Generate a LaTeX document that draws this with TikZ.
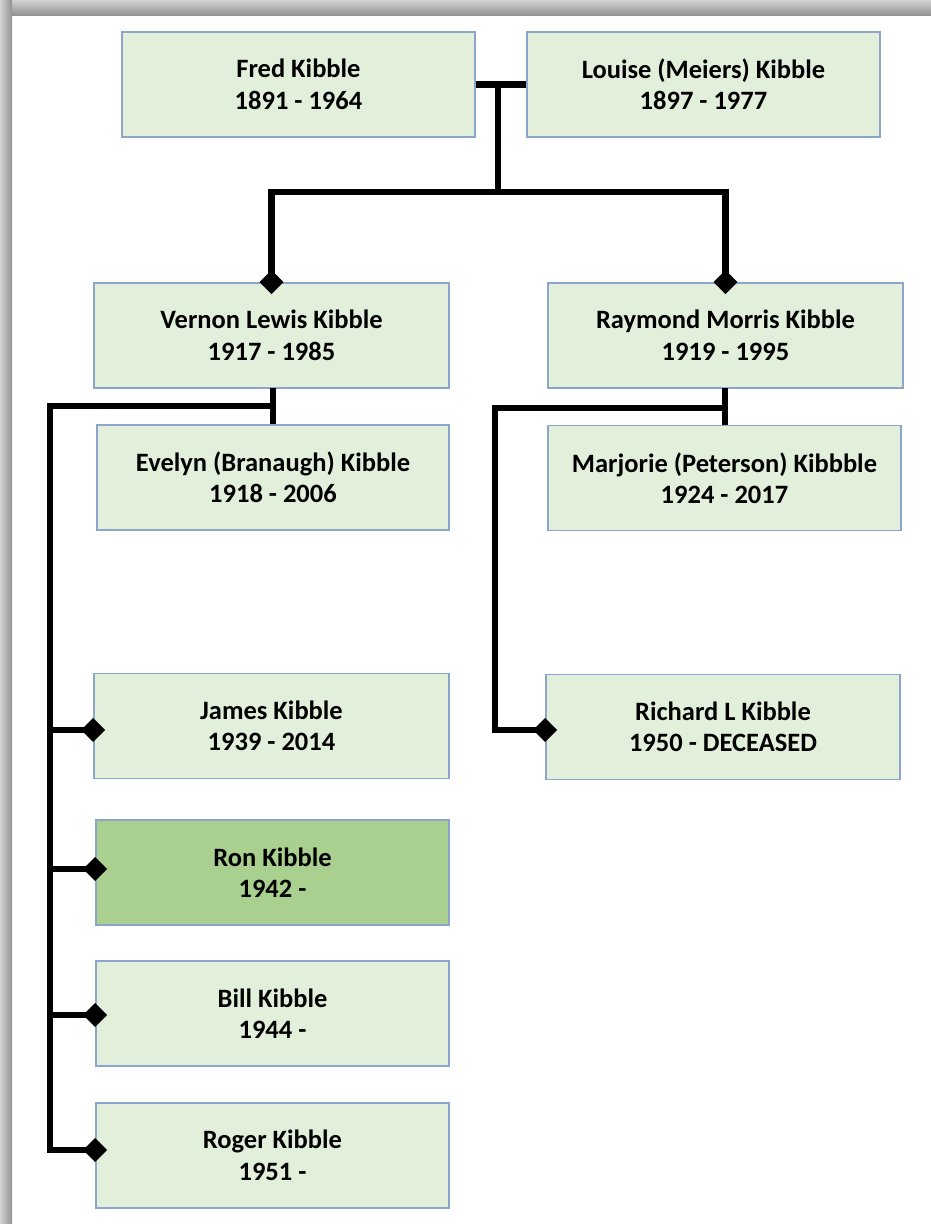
\documentclass[tikz,border=0pt]{standalone}
\usepackage{fontspec}
\setmainfont{Carlito}
\usetikzlibrary{arrows.meta,calc}
\definecolor{boxfill}{RGB}{226,239,218}
\definecolor{ronfill}{RGB}{169,208,142}
\definecolor{boxline}{RGB}{140,165,205}
\begin{document}
\begin{tikzpicture}[x=1pt,y=-1pt,
  person/.style={draw=boxline, line width=1.8pt, fill=boxfill, minimum width=353pt, minimum height=105pt,
     inner sep=0pt, align=center, font=\fontsize{26.5}{31.5}\selectfont\bfseries, text=black},
  conn/.style={line width=6.8pt, line join=miter, line cap=rect},
  child/.style={line width=6.8pt, line join=miter, -{Diamond[length=24pt,width=24pt]}, shorten >=-12pt}
]
\useasboundingbox (0,0) rectangle (931,1224);
\fill[white] (0,0) rectangle (931,1224);
\shade[top color=gray!35, bottom color=gray!85] (0,0) rectangle (931,15);
\shade[left color=gray!35, right color=gray!85] (0,0) rectangle (12,1224);

\node[person] (fred) at (298.5,84.5) {Fred Kibble\\1891 - 1964};
\node[person] (louise) at (703.5,84.5) {Louise (Meiers) Kibble\\1897 - 1977};
\node[person, minimum width=355pt] (vernon) at (271.5,335.5) {Vernon Lewis Kibble\\1917 - 1985};
\node[person, minimum width=355pt] (raymond) at (725.5,335.5) {Raymond Morris Kibble\\1919 - 1995};
\node[person, minimum width=352pt] (evelyn) at (273,477.5) {Evelyn (Branaugh) Kibble\\1918 - 2006};
\node[person] (marjorie) at (724.5,478) {Marjorie (Peterson) Kibbble\\1924 - 2017};
\node[person, minimum width=355pt] (james) at (271.5,726) {James Kibble\\1939 - 2014};
\node[person, fill=ronfill] (ron) at (272.5,872.5) {Ron Kibble\\1942 -};
\node[person] (bill) at (272.5,1013.5) {Bill Kibble\\1944 -};
\node[person] (roger) at (272.5,1155.5) {Roger Kibble\\1951 -};
\node[person, minimum width=354pt] (richard) at (723,727) {Richard L Kibble\\1950 - DECEASED};

% parents
\draw[conn, line cap=butt] (fred.east) -- (louise.west);
\coordinate (pm) at (498,84.5);
\coordinate (pj) at (498,192);
\draw[conn, line cap=butt] (pm) -- (pj);
\draw[child] (pj) -| (vernon.north);
\draw[child] (pj) -| (raymond.north);

% Vernon family
\coordinate (vb) at (273,388);
\draw[conn, line cap=butt] (vb) -- (vb |- evelyn.north);
\coordinate (vj) at (273,406);
\coordinate (ls) at (50,406);
\coordinate (le) at (50,1150);
\draw[conn] (vj) -- (ls) -- (le);
\coordinate (sj) at (50,730);
\coordinate (sr) at (50,869);
\coordinate (sb) at (50,1015);
\draw[child] (sj) -- (sj -| james.west);
\draw[child] (sr) -- (sr -| ron.west);
\draw[child] (sb) -- (sb -| bill.west);
\draw[child] (le) -- (le -| roger.west);

% Raymond family
\coordinate (rb) at (725,388);
\draw[conn, line cap=butt] (rb) -- (rb |- marjorie.north);
\coordinate (rj) at (725,408);
\coordinate (rs) at (495,408);
\coordinate (re) at (495,730);
\draw[conn] (rj) -- (rs) -- (re);
\draw[child] (re) -- (re -| richard.west);
\end{tikzpicture}
\end{document}
